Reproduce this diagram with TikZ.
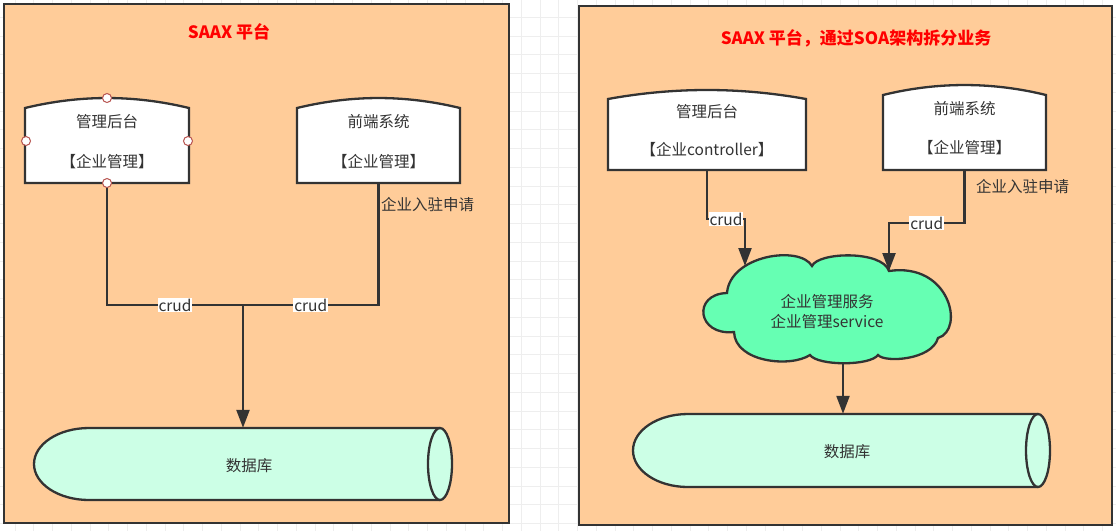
\documentclass[tikz,border=0pt]{standalone}
\usepackage{fontspec}
\setmainfont{Noto Sans CJK SC}
\usetikzlibrary{arrows.meta}
\definecolor{ln}{HTML}{333333}
\definecolor{peach}{HTML}{FFCC99}
\definecolor{dbfill}{HTML}{CCFFE6}
\definecolor{cloudfill}{HTML}{66FFB3}
\definecolor{gridc}{HTML}{EEEEEE}
\definecolor{handle}{HTML}{B85450}
\begin{document}
\begin{tikzpicture}[x=1pt,y=-1pt,
  panel/.style={draw=ln, line width=2.3pt, fill=peach},
  shapeline/.style={draw=ln, line width=2.3pt},
  txt/.style={text=ln, font=\fontsize{15.5}{20}\selectfont, inner sep=0pt},
  conn/.style={draw=ln, line width=2.3pt},
  arr/.style={conn, -{Triangle[length=18pt,width=13pt]}},
  lbl/.style={txt, fill=white, inner sep=1pt},
  titletxt/.style={text=red, font=\fontsize{17}{20}\selectfont\bfseries},
  hdl/.style={circle, draw=handle, fill=white, line width=1pt, minimum size=9pt, inner sep=0pt},
]
\useasboundingbox (0,0) rectangle (1116,531);
\fill[white] (0,0) rectangle (1116,531);
\foreach \i in {0,...,58} \draw[gridc, line width=0.8pt] ({15+18.75*\i},0) -- ({15+18.75*\i},531);
\foreach \j in {1,...,28} \draw[gridc, line width=0.8pt] (0,{-1.5+18.75*\j}) -- (1116,{-1.5+18.75*\j});

% panels
\path[panel] (4,4) rectangle (509,523);
\path[panel] (579,6) rectangle (1112,525);
\node[titletxt] (t1) at (229,32) {SAAX 平台};
\node[titletxt] (t2) at (856,38) {SAAX 平台，通过SOA架构拆分业务};

% left panel boxes
\draw[shapeline, fill=white] (25,183) -- (25,108) .. controls (80,94.7) and (134,94.7) .. (189,108) -- (189,183) -- cycle;
\node[txt, align=center, minimum width=164pt, minimum height=82pt] (b1) at (107,142) {管理后台\\[20pt]【企业管理】};
\draw[shapeline, fill=white] (297,183) -- (297,108) .. controls (352,94.7) and (405,94.7) .. (460,108) -- (460,183) -- cycle;
\node[txt, align=center, minimum width=163pt, minimum height=82pt] (b2) at (378.5,142) {前端系统\\[20pt]【企业管理】};

% left database
\path[fill=dbfill] (89,428) -- (440,428) -- (440,500) -- (89,500) .. controls (58.6,500) and (34,483.9) .. (34,464) .. controls (34,444.1) and (58.6,428) .. (89,428) -- cycle;
\draw[shapeline] (440,428) -- (89,428) .. controls (58.6,428) and (34,444.1) .. (34,464) .. controls (34,483.9) and (58.6,500) .. (89,500) -- (440,500);
\draw[shapeline, fill=dbfill] (440,464) ellipse [x radius=12pt, y radius=36pt];
\node[minimum width=418pt, minimum height=72pt, inner sep=0pt] (db1) at (243,464) {};
\node[txt] (db1t) at (249,466) {数据库};

% left connectors
\coordinate (j1) at (243,305);
\draw[conn] (b1.south) |- (j1) node[pos=0.75, lbl] {crud};
\draw[conn] (b2.south) |- (j1) node[pos=0.75, lbl] {crud};
\draw[arr] (j1) -- (db1.north);
\node[txt, anchor=west] (l1) at (381,205) {企业入驻申请};

% handles
\node[hdl] (h1) at (107,98) {};
\node[hdl] (h2) at (26,141) {};
\node[hdl] (h3) at (188,141) {};
\node[hdl] (h4) at (107,183) {};

% right panel boxes
\draw[shapeline, fill=white] (608,170) -- (608,99) .. controls (674,87) and (740,87) .. (806,99) -- (806,170) -- cycle;
\node[txt, align=center, minimum width=198pt, minimum height=78pt] (b3) at (707,131) {管理后台\\[18pt]【企业controller】};
\draw[shapeline, fill=white] (883,170) -- (883,95) .. controls (937,81.7) and (992,81.7) .. (1046,95) -- (1046,170) -- cycle;
\node[txt, align=center, minimum width=163pt, minimum height=83pt] (b4) at (964.5,128.5) {前端系统\\[19pt]【企业管理】};

% cloud
\draw[shapeline, fill=cloudfill] (734,332) .. controls (697,336) and (692,294) .. (727,293)
  .. controls (730,255) and (800,245) .. (812,266)
  .. controls (818,252) and (882,250) .. (889,271)
  .. controls (950,262) and (965,330) .. (938,338)
  .. controls (932,360) and (885,363) .. (878,355)
  .. controls (870,366) and (818,366) .. (810,355)
  .. controls (790,368) and (735,362) .. (734,332) -- cycle;
\node[txt, align=center] (cl) at (827,312) {企业管理服务\\企业管理service};
\coordinate (clA) at (745,266);
\coordinate (clB) at (889,271);
\coordinate (clC) at (843,362);

% right database
\path[fill=dbfill] (688,414) -- (1038,414) -- (1038,487) -- (688,487) .. controls (657.6,487) and (633,470.7) .. (633,450.5) .. controls (633,430.3) and (657.6,414) .. (688,414) -- cycle;
\draw[shapeline] (1038,414) -- (688,414) .. controls (657.6,414) and (633,430.3) .. (633,450.5) .. controls (633,470.7) and (657.6,487) .. (688,487) -- (1038,487);
\draw[shapeline, fill=dbfill] (1038,450.5) ellipse [x radius=12pt, y radius=36.5pt];
\node[minimum width=417pt, minimum height=73pt, inner sep=0pt] (db2) at (841.5,450.5) {};
\node[txt] (db2t) at (847,452) {数据库};

% right connectors
\draw[arr] (b3.south) -- ++(0,49) -| (clA) node[pos=0.25, lbl] {crud};
\draw[arr] (b4.south) -- ++(0,53) -| (clB) node[pos=0.25, lbl] {crud};
\draw[arr] (clC) -- (clC |- db2.north);
\node[txt, anchor=west] (l2) at (976,187) {企业入驻申请};
\end{tikzpicture}
\end{document}
